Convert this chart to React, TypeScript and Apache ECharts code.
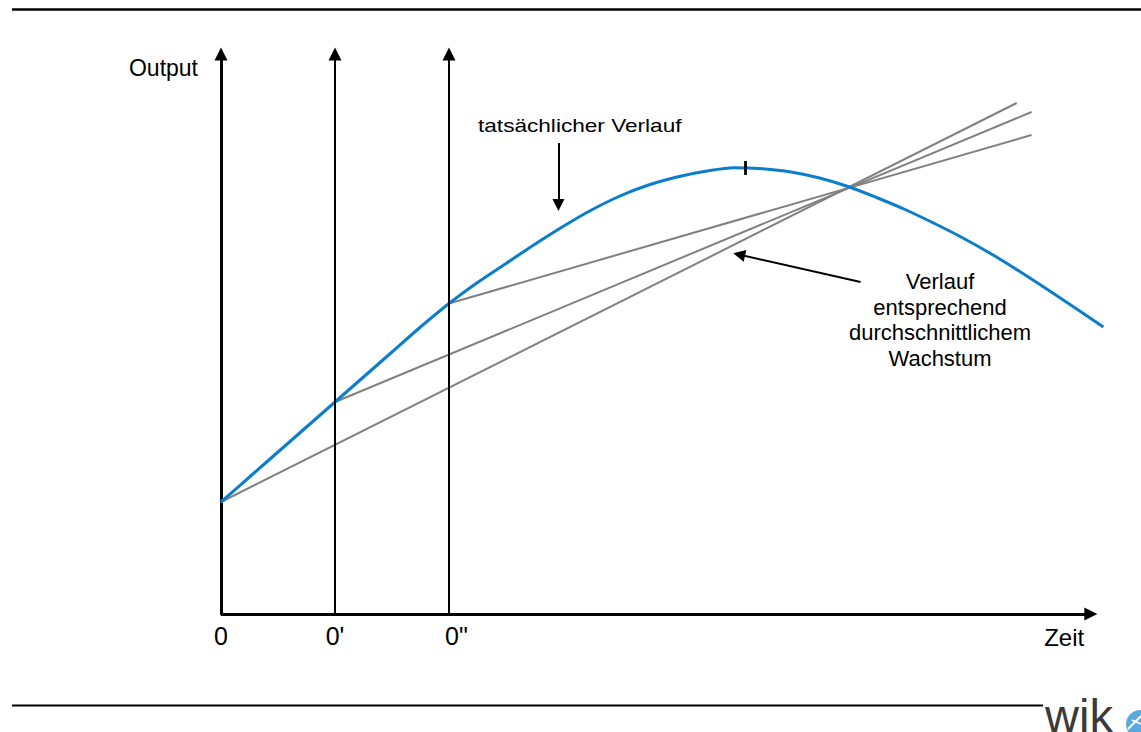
import React, { useEffect, useRef } from "react";
import * as echarts from "echarts";

// ---- data (x in periods: 0, 0', 0"; y in output units) ----
const periodLabels = ["0", "0'", '0"'];
const curveX = [
  0, 0.25, 0.5, 0.75, 1, 1.25, 1.5, 1.75, 2, 2.25, 2.5, 2.75, 3, 3.25, 3.5, 3.75, 4, 4.25, 4.5, 4.75,
  5, 5.25, 5.5, 5.75, 6, 6.25, 6.5, 6.75, 7, 7.25, 7.5, 7.74,
];
const curveY = [
  1.12, 1.37, 1.62, 1.87, 2.12, 2.37, 2.62, 2.87, 3.105, 3.315, 3.505, 3.695, 3.875, 4.04, 4.18, 4.29,
  4.37, 4.427, 4.463, 4.452, 4.42, 4.36, 4.275, 4.165, 4.045, 3.91, 3.765, 3.605, 3.43, 3.245, 3.055, 2.87,
];
const trendFrom0 = [[0, 1.12], [6.98, 5.11]];
const trendFrom1 = [[1, 2.12], [7.11, 5.02]];
const trendFrom2 = [[2, 3.105], [7.11, 4.79]];
const periodStarts = [1, 2];
const timeAxisEnd = 7.63;
const peakX = 4.6;
const peakTick = [4.39, 4.53];
const arrowActual = [[2.96, 4.71], [2.96, 4.09]];
const arrowAverage = [[5.61, 3.32], [4.545, 3.594]];

const X_MAX = 7.8;
const Y_MAX = 5.6;
const FONT = "'Liberation Sans', Arial, Helvetica, sans-serif";
const BLUE = "#0a7dcc";
const GRAY = "#808080";

export default function App() {
  const ref = useRef<HTMLDivElement>(null);

  useEffect(() => {
    if (!ref.current) return;
    const chart = echarts.init(ref.current, undefined, { renderer: "svg" });

    const curve = curveX.map((x, i) => [x, curveY[i]]);

    const markLines: any[] = [];
    // time axis with arrow
    markLines.push([
      { coord: [0, 0], symbol: "none", lineStyle: { width: 3, color: "#000", type: "solid" } },
      { coord: [timeAxisEnd, 0], symbol: "triangle", symbolSize: 13, lineStyle: { width: 3, color: "#000", type: "solid" } },
    ]);
    periodStarts.forEach((p) => {
      markLines.push([{ coord: [p, 0], symbol: "none" }, { coord: [p, Y_MAX], symbol: "triangle" }]);
    });
    markLines.push([
      { coord: arrowActual[0], symbol: "none" },
      { coord: arrowActual[1], symbol: "triangle", symbolSize: 12 },
    ]);
    markLines.push([
      { coord: arrowAverage[0], symbol: "none" },
      { coord: arrowAverage[1], symbol: "triangle", symbolSize: 12 },
    ]);
    markLines.push([
      { coord: [peakX, peakTick[0]], symbol: "none", lineStyle: { width: 2.8, color: "#000", type: "solid" } },
      { coord: [peakX, peakTick[1]], symbol: "none", lineStyle: { width: 2.8, color: "#000", type: "solid" } },
    ]);

    const grayLine = (data: number[][]) => ({
      type: "line",
      data,
      symbol: "none",
      showSymbol: false,
      silent: true,
      clip: false,
      lineStyle: { color: GRAY, width: 2 },
      z: 2,
    });

    const option: any = {
      animation: false,
      backgroundColor: "#fff",
      grid: {
        left: 221,
        top: 54,
        right: 30.8,
        bottom: 118,
        containLabel: false,
        outerBoundsMode: "none",
      },
      xAxis: {
        type: "value",
        min: 0,
        max: X_MAX,
        interval: 1,
        name: "Zeit",
        nameLocation: "end",
        nameGap: -26,
        nameMoveOverlap: false,
        nameTextStyle: {
          fontSize: 24,
          color: "#000",
          fontFamily: FONT,
          align: "right",
          verticalAlign: "top",
          padding: [11, 0, 0, 0],
        },
        axisLine: { show: false },
        axisTick: { show: false },
        splitLine: { show: false },
        axisLabel: {
          show: true,
          margin: 9,
          fontSize: 25,
          color: "#000",
          fontFamily: FONT,
          showMaxLabel: false,
          formatter: (v: number) => {
            const i = Math.round(v);
            if (Math.abs(v - i) > 1e-6 || i < 0 || i >= periodLabels.length) return "";
            return i === 2 ? "{q|" + periodLabels[i] + "}" : periodLabels[i];
          },
          rich: {
            q: { padding: [0, 0, 0, 15], fontSize: 25, color: "#000", fontFamily: FONT },
          },
        },
      },
      yAxis: {
        type: "value",
        min: 0,
        max: Y_MAX,
        name: "Output",
        nameLocation: "end",
        nameGap: -14,
        nameMoveOverlap: false,
        nameTextStyle: {
          fontSize: 23,
          color: "#000",
          fontFamily: FONT,
          align: "right",
          verticalAlign: "middle",
          padding: [0, 23, 0, 0],
        },
        axisLine: {
          show: true,
          onZero: false,
          symbol: ["none", "triangle"],
          symbolSize: [13, 13],
          lineStyle: { color: "#000", width: 3 },
        },
        axisTick: { show: false },
        axisLabel: { show: false },
        splitLine: { show: false },
      },
      series: [
        grayLine(trendFrom0),
        grayLine(trendFrom1),
        grayLine(trendFrom2),
        {
          type: "line",
          data: curve,
          smooth: 0.3,
          symbol: "none",
          showSymbol: false,
          silent: true,
          clip: false,
          lineStyle: { color: BLUE, width: 3 },
          z: 3,
        },
        {
          type: "line",
          data: [],
          symbol: "none",
          silent: true,
          clip: false,
          z: 4,
          markLine: {
            silent: true,
            symbol: ["none", "triangle"],
            symbolSize: 13,
            label: { show: false },
            emphasis: { disabled: true },
            lineStyle: { color: "#000", width: 2, type: "solid" },
            data: markLines,
          },
        },
      ],
      graphic: [
        {
          type: "line",
          silent: true,
          shape: { x1: 12, y1: 9.5, x2: 1141, y2: 9.5 },
          style: { stroke: "#000", lineWidth: 2.5 },
        },
        {
          type: "line",
          silent: true,
          shape: { x1: 12, y1: 705.5, x2: 1043, y2: 705.5 },
          style: { stroke: "#000", lineWidth: 2 },
        },
        {
          type: "text",
          x: 478,
          y: 125,
          scaleX: 1.19,
          silent: true,
          style: {
            text: "tatsächlicher Verlauf",
            fontSize: 19,
            fontFamily: FONT,
            fill: "#000",
            align: "left",
            verticalAlign: "middle",
            textAlign: "left",
            textVerticalAlign: "middle",
          },
        },
        {
          type: "text",
          x: 940,
          y: 320,
          silent: true,
          style: {
            text: "Verlauf\nentsprechend\ndurchschnittlichem\nWachstum",
            fontSize: 22,
            lineHeight: 25.5,
            fontFamily: FONT,
            fill: "#000",
            align: "center",
            verticalAlign: "middle",
            textAlign: "center",
            textVerticalAlign: "middle",
          },
        },
        {
          type: "text",
          x: 1045,
          y: 715,
          silent: true,
          style: {
            text: "wik",
            fontSize: 47,
            fontFamily: FONT,
            fill: "#3a3a3a",
            align: "left",
            verticalAlign: "middle",
            textAlign: "left",
            textVerticalAlign: "middle",
          },
        },
        {
          type: "circle",
          silent: true,
          shape: { cx: 1140, cy: 724, r: 14 },
          style: { fill: "#5aa8dc" },
        },
        {
          type: "line",
          silent: true,
          shape: { x1: 1128, y1: 729, x2: 1141, y2: 716 },
          style: { stroke: "#fff", lineWidth: 2 },
        },
        {
          type: "line",
          silent: true,
          shape: { x1: 1132, y1: 720, x2: 1141, y2: 724 },
          style: { stroke: "#fff", lineWidth: 1.5 },
        },
      ],
    };

    chart.setOption(option);
    return () => chart.dispose();
  }, []);

  return (
    <div
      ref={ref}
      style={{ position: "fixed", left: 0, top: 0, width: 1141, height: 732, background: "#fff" }}
    />
  );
}
